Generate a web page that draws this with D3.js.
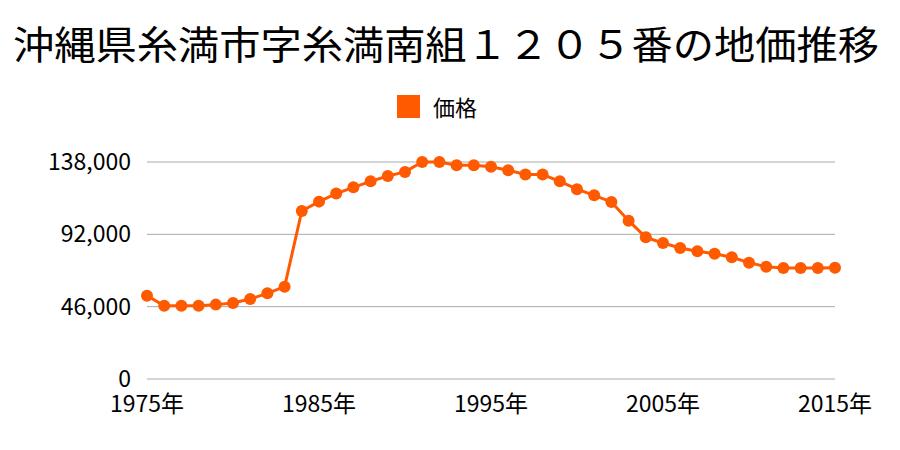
<!DOCTYPE html>
<html><head><meta charset="utf-8">
<script src="https://cdn.jsdelivr.net/npm/d3@7"></script>
<style>body{margin:0;background:#fff}svg{display:block}text{font-family:"Noto Sans CJK JP","Noto Sans",sans-serif}</style>
</head><body>
<svg id="c" width="900" height="450"></svg>
<script>
const title = "沖縄県糸満市字糸満南組１２０５番の地価推移";
const seriesName = "価格";
const years = [1975,1976,1977,1978,1979,1980,1981,1982,1983,1984,1985,1986,1987,1988,1989,1990,1991,1992,1993,1994,1995,1996,1997,1998,1999,2000,2001,2002,2003,2004,2005,2006,2007,2008,2009,2010,2011,2012,2013,2014,2015];
const prices = [53000,46600,46600,46600,47300,48300,50900,54500,58700,106900,112800,117900,121900,125700,129100,131700,138000,138000,135900,135900,135000,132700,130000,130000,125700,120700,116800,112600,100700,90100,86500,83300,81200,79700,77400,74000,71400,70600,70600,70600,70800];
const yTicks = [0,46000,92000,138000];
const xTicks = [1975,1985,1995,2005,2015];
const color = "#ff5a00";

const svg = d3.select("#c");
const x = d3.scaleLinear().domain([1975,2015]).range([147,835]);
const y = d3.scaleLinear().domain([0,138000]).range([379,162]);

svg.append("text").attr("x",13).attr("y",59).attr("font-size",39)
  .attr("textLength",866).attr("lengthAdjust","spacingAndGlyphs")
  .attr("fill","#000").text(title);

svg.append("rect").attr("x",397).attr("y",95).attr("width",23).attr("height",23).attr("fill",color);
svg.append("text").attr("x",433).attr("y",116).attr("font-size",22).attr("fill","#000").text(seriesName);

svg.append("g").selectAll("line").data(yTicks).join("line")
  .attr("x1",147).attr("x2",835).attr("y1",d=>y(d)).attr("y2",d=>y(d))
  .attr("stroke","#aaa").attr("stroke-width",1);

svg.append("g").selectAll("text").data(yTicks).join("text")
  .attr("x",131).attr("y",d=>y(d)+8).attr("text-anchor","end").attr("font-size",23)
  .text(d=>d3.format(",")(d));

svg.append("g").selectAll("text").data(xTicks).join("text")
  .attr("x",d=>x(d)).attr("y",412).attr("text-anchor","middle").attr("font-size",23)
  .text(d=>d+"年");

const pts = years.map((yr,i)=>[yr,prices[i]]);
svg.append("path").datum(pts).attr("fill","none").attr("stroke",color).attr("stroke-width",3)
  .attr("d",d3.line().x(d=>x(d[0])).y(d=>y(d[1])));
svg.append("g").selectAll("circle").data(pts).join("circle")
  .attr("cx",d=>x(d[0])).attr("cy",d=>y(d[1])).attr("r",6).attr("fill",color);
</script>
</body></html>
